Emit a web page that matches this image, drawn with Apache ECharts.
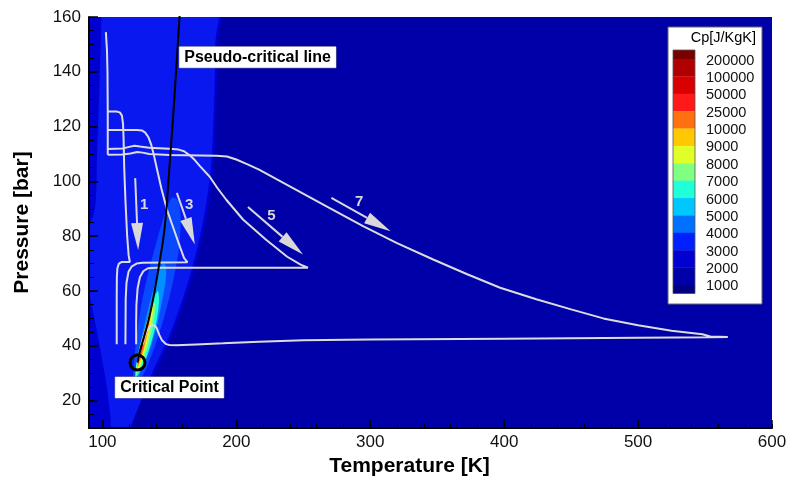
<!DOCTYPE html>
<html><head><meta charset="utf-8">
<script src="https://cdn.jsdelivr.net/npm/echarts@6/dist/echarts.min.js"></script>
<style>html,body{margin:0;padding:0;background:#fff}#c{width:790px;height:477px}</style>
</head><body><div id="c"></div>
<script>
// ---------- tick labels ----------
const xTickLabels = [100, 200, 300, 400, 500, 600];
const xMinorTicks = [100,120,140,160,180,200,220,240,260,280,300,320,340,360,380,400,420,440,460,480,500,520,540,560,580,600];
const yTickLabels = [20, 40, 60, 80, 100, 120, 140, 160];
const yMinorTicks = [10,15,20,25,30,35,40,45,50,55,60,65,70,75,80,85,90,95,100,105,110,115,120,125,130,135,140,145,150,155,160];

// ---------- colour legend (Cp levels) ----------
const legendLevels = ['200000','100000','50000','25000','10000','9000','8000','7000','6000','5000','4000','3000','2000','1000'];
const legendColors = ['#7a0000','#b00000','#d80000','#ff1a1a','#ff7010','#ffc800','#e0ff28','#80ff80','#20ffd8','#00c8ff','#0070ff','#0020ff','#0000d0','#0000a8','#000080'];

// ---------- Cp contour regions [T(K), P(bar)] ----------
const cp2000 = [[80,170],[186.5,170],[186.2,150],[185.3,130],[183,105],[177,85],[167,65],[153,45],[137,28],[120,14],[106,4],[80,4]];
const cp3000 = [[99.6,170],[184.5,170],[184.3,150],[183.5,130],[181,105],[175,85],[165,65],[151,45],[137,30],[128,19],[121,10],[118,4],[108,4],[106,14],[103,26],[98,40],[92,55],[88,65],[88,80],[94.5,90],[96,110],[97.8,135],[99.3,160]];
const cp4000 = [[123.5,24],[127,26.5],[133,32],[140,41],[147,52],[153,64],[157,75],[158.5,86],[156.5,93],[152,94],[146.5,88],[140.5,78],[134.5,67],[129.5,56],[126,45],[124,36],[123,29]];
const cp5000 = [[124.5,27],[129,31],[135,38],[140,46],[144,55],[147,63],[147.5,69],[145,70],[141,65],[136,57],[131.5,48],[128,40],[125.5,33]];
const cp6000 = [[125,28.5],[131,33.5],[136,40.5],[140,48],[142.3,56],[141.5,60],[139,58],[135.5,52],[131,45],[127,38],[125,32]];
const cp7000 = [[125.5,29.5],[130.5,34.5],[135,41.5],[138.5,49.5],[139.5,55],[138,56],[135,51],[131,44],[127,37],[125.5,33]];
const cp8000 = [[125.8,30.5],[130,35.5],[134,42.5],[137,50],[137.8,54],[136,53.5],[133,48],[129.5,42],[126.5,36]];
const cp9000 = [[126,31.5],[130,37],[133.5,43.5],[136,50],[136,52],[134,50],[131,44.5],[128,39],[126.3,34.5]];
const cp10000 = [[126.3,32.5],[129,36],[132,41.5],[134.5,47],[135,49.5],[133.5,48.5],[130.5,43.5],[128,39],[126.6,35.5]];
const cp25000 = [[126.5,33.5],[129,37.5],[131.5,42.5],[133.2,46.5],[132.3,46.2],[130,42.5],[127.8,38.5],[126.6,35.5]];
const contourRegions = [cp2000, cp3000, cp4000, cp5000, cp6000, cp7000, cp8000, cp9000, cp10000, cp25000];
const contourColors = ['#0000d0','#0a18f0','#0a48ff','#0090ff','#20ffd8','#80ff80','#e0ff28','#ffc800','#ff7010','#ff1a1a'];

// ---------- lines ----------
const pseudoCritical = [[126.2,33.9],[127.7,37.6],[131,43],[135.2,50.9],[139,60],[142.6,70.3],[145.4,78.8],[147.5,88],[149.3,100],[150.8,110],[152.3,120],[153.7,130],[155,140],[156.3,150],[157.6,160],[158.3,165]];
const criticalPoint = [[126.2, 33.9]];
const compression = [[102.6,154.5],[103.4,148],[103.8,140],[104,125],[104,109.7]];
const traj1 = [[104,125.5],[110.5,125.5],[113,125.2],[114.6,124],[115.4,121],[115.8,116],[116.3,105],[117.3,92],[118.5,80],[119.6,73],[120.5,70.6],[114.5,70.6],[112.3,70],[111.2,68.3],[110.8,65],[110.7,58],[110.7,40.6]];
const traj3 = [[104,118.8],[126,118.8],[129.5,118.6],[132,117.8],[134.5,116],[136.5,113.3],[138.5,109.5],[141,104],[144,97.5],[148,90],[153,83],[158,76],[161,72],[163.5,70.5],[164.5,70.4],[130,70.3],[125.5,70],[122,69],[119.5,67],[118,63],[117.4,57],[117.2,40.6]];
const traj5 = [[104,111.8],[115,112],[120,112.6],[124,113],[128,112.7],[135,112.3],[150,111.9],[157,111.6],[161,111],[165,109.6],[169,107.8],[173,105.5],[180,101.8],[186,97.5],[192.5,93.3],[205,86.1],[222,78.8],[238,72.5],[248,69.6],[253.5,68.5],[140,68.5],[134,68.3],[130.5,67.2],[128,65],[126.3,61],[125.4,55],[125.2,48],[125.2,40.6]];
const traj7 = [[104,109.7],[115,109.8],[121,110.2],[126,110.7],[130,110.5],[135,110],[150,109.6],[185,109.4],[193,109.1],[200,108],[208,106.3],[217,104.3],[230,100.8],[242,97.6],[267,91],[295,83.6],[320,77.5],[347,71.5],[372,66.2],[397,61.2],[424,57],[450,53.3],[474,50],[500,47.5],[525,45.5],[548,44.2],[554,43.4],[567,43.2],[554,43.1],[500,42.9],[400,42.6],[300,42.3],[250,42.0],[217,41.5],[190,40.9],[170,40.5],[155,40.2],[150,40.3],[147.6,40.6],[144.5,42],[142.5,44],[140.5,46.5],[139,47.4],[137,47.5],[135,46.8],[133,45.3],[131.5,43],[130.2,40.6]];
const trajectories = [compression, traj1, traj3, traj5, traj7];

// ---------- arrows & labels ----------
const arrowFrom = [[124.5,101.2],[155.6,95.8],[208.7,90.7],[271,94]];
const arrowTo   = [[126.7,75],[169,77],[249.8,73.3],[315.2,81.8]];
const arrowNames = ['1','3','5','7'];
const arrowLabelPos = [[131.2,91.5],[164.8,91.5],[226.2,87.5],[291.7,92.4]];
const annotations = [{name:'Pseudo-critical line', value:[215.9,145.3]},{name:'Critical Point', value:[150.1,24.8]}];

const FONT = 'Liberation Sans, Arial, Helvetica, sans-serif';
const chart = echarts.init(document.getElementById('c'), null, {renderer:'canvas'});

const LINE_COLOR = '#dcdcdc';
const series = [];
series.push({
  type:'custom', coordinateSystem:'cartesian2d', clip:true, silent:true, z:1,
  data: contourRegions.map(p => p[0]),
  renderItem: (params, api) => {
    const poly = contourRegions[params.dataIndex];
    return { type:'polygon', shape:{ points: poly.map(v => api.coord(v)), smooth:0.3 },
             style:{ fill: contourColors[params.dataIndex] } };
  }
});
trajectories.forEach(t => series.push({
  type:'line', data:t, showSymbol:false, symbol:'none', silent:true, z:5,
  lineStyle:{color:LINE_COLOR, width:2}, clip:true
}));
series.push({
  type:'line', data:pseudoCritical, showSymbol:false, symbol:'none', smooth:0.3, silent:true, z:6,
  lineStyle:{color:'#000', width:2}, clip:true
});
series.push({
  type:'custom', coordinateSystem:'cartesian2d', silent:true, z:7,
  data: arrowFrom,
  renderItem: (params, api) => {
    const i = params.dataIndex;
    const p0 = api.coord(arrowFrom[i]), p1 = api.coord(arrowTo[i]);
    const dx = p1[0]-p0[0], dy = p1[1]-p0[1], L = Math.hypot(dx,dy);
    const ux = dx/L, uy = dy/L, nx = -uy, ny = ux;
    const hl = 27, hw = 6;
    const bx = p1[0]-ux*hl, by = p1[1]-uy*hl;
    return { type:'group', children:[
      {type:'line', shape:{x1:p0[0], y1:p0[1], x2:bx, y2:by}, style:{stroke:'#d8d8d8', lineWidth:2}},
      {type:'polygon', shape:{points:[[p1[0],p1[1]],[bx+nx*hw,by+ny*hw],[bx-nx*hw,by-ny*hw]]}, style:{fill:'#d8d8d8'}}
    ]};
  }
});
series.push({
  type:'scatter', symbol:'circle', symbolSize:1, silent:true, z:8,
  itemStyle:{color:'rgba(0,0,0,0)', opacity:1},
  data: arrowLabelPos.map((v,i)=>({name:arrowNames[i], value:v})),
  label:{show:true, opacity:1, position:'inside', formatter:'{b}', color:'#d8d8d8', fontFamily:FONT, fontWeight:'bold', fontSize:15}
});
series.push({
  type:'scatter', symbol:'circle', symbolSize:15, silent:true, z:9,
  data: criticalPoint,
  itemStyle:{color:'rgba(0,0,0,0)', borderColor:'#000', borderWidth:3, opacity:1}
});
series.push({
  type:'scatter', symbol:'circle', symbolSize:1, silent:true, z:10,
  itemStyle:{color:'rgba(0,0,0,0)', opacity:1},
  data: annotations,
  label:{show:true, opacity:1, position:'inside', formatter:'{b}', color:'#000', fontFamily:FONT, fontWeight:'bold', fontSize:16,
         backgroundColor:'#ffffff', padding:[3,5,2,5], borderColor:'#888', borderWidth:0.5}
});

// legend graphic
const LX = 668, LY = 27, LW = 94, LH = 277;
const swX = 673, swW = 22, swTop = 50, swStep = 17.38, swFirst = 59;
const leg = [];
leg.push({type:'rect', shape:{x:LX, y:LY, width:LW, height:LH}, style:{fill:'#fff', stroke:'#666', lineWidth:1}});
leg.push({type:'text', x:LX+LW-6, y:38, style:{text:'Cp[J/KgK]', fill:'#000', font:'14.5px '+FONT, align:'right', verticalAlign:'middle'}});
legendColors.forEach((c,i) => {
  let y0, y1;
  if (i === 0) { y0 = swTop; y1 = swFirst; }
  else { y0 = swFirst + swStep*(i-1); y1 = (i === legendColors.length-1) ? y0 + 8.5 : y0 + swStep; }
  leg.push({type:'rect', shape:{x:swX, y:y0, width:swW, height:y1-y0+0.3}, style:{fill:c}});
});
leg.push({type:'rect', shape:{x:swX, y:swTop, width:swW, height:swFirst + swStep*13 + 8.5 - swTop}, style:{fill:'none', stroke:'#555', lineWidth:0.8}});
legendLevels.forEach((t,i) => {
  leg.push({type:'text', x:706, y: swFirst + swStep*i + 1.5, style:{text:t, fill:'#111', font:'14.5px '+FONT, verticalAlign:'middle'}});
});

const axisTxt = {color:'#111', fontFamily:FONT, fontSize:17};
chart.setOption({
  animation:false,
  backgroundColor:'#fff',
  grid:{left:89, right:18, top:17, bottom:49, show:true, backgroundColor:'#0000a8', borderWidth:0, outerBoundsMode:'none', containLabel:false},
  xAxis:[{
    type:'value', min:90, max:600, z:20,
    name:'Temperature [K]', nameLocation:'middle', nameGap:26,
    nameTextStyle:{color:'#000', fontFamily:FONT, fontSize:21, fontWeight:'bold', padding:[0,42,0,0]},
    axisLine:{show:true, onZero:false, lineStyle:{color:'#000', width:2}},
    axisTick:{show:true, inside:true, length:8, customValues:xTickLabels, lineStyle:{color:'#000', width:1.5}},
    axisLabel:{customValues:xTickLabels, margin:6, ...axisTxt},
    splitLine:{show:false}
  },{
    type:'value', min:90, max:600, position:'bottom', z:20,
    axisLine:{show:false}, axisLabel:{show:false}, splitLine:{show:false},
    axisTick:{show:true, inside:true, length:4, customValues:xMinorTicks, lineStyle:{color:'#000', width:1}}
  }],
  yAxis:[{
    type:'value', min:10, max:160, z:20,
    name:'Pressure [bar]', nameLocation:'middle', nameGap:56,
    nameTextStyle:{color:'#000', fontFamily:FONT, fontSize:21, fontWeight:'bold'},
    axisLine:{show:true, onZero:false, lineStyle:{color:'#000', width:2}},
    axisTick:{show:true, inside:true, length:9, customValues:yTickLabels, lineStyle:{color:'#000', width:1.5}},
    axisLabel:{customValues:yTickLabels, margin:8, ...axisTxt},
    splitLine:{show:false}
  },{
    type:'value', min:10, max:160, position:'left', z:20,
    axisLine:{show:false}, axisLabel:{show:false}, splitLine:{show:false},
    axisTick:{show:true, inside:true, length:5, customValues:yMinorTicks, lineStyle:{color:'#000', width:1}}
  }],
  series: series,
  graphic: leg
});
</script></body></html>
